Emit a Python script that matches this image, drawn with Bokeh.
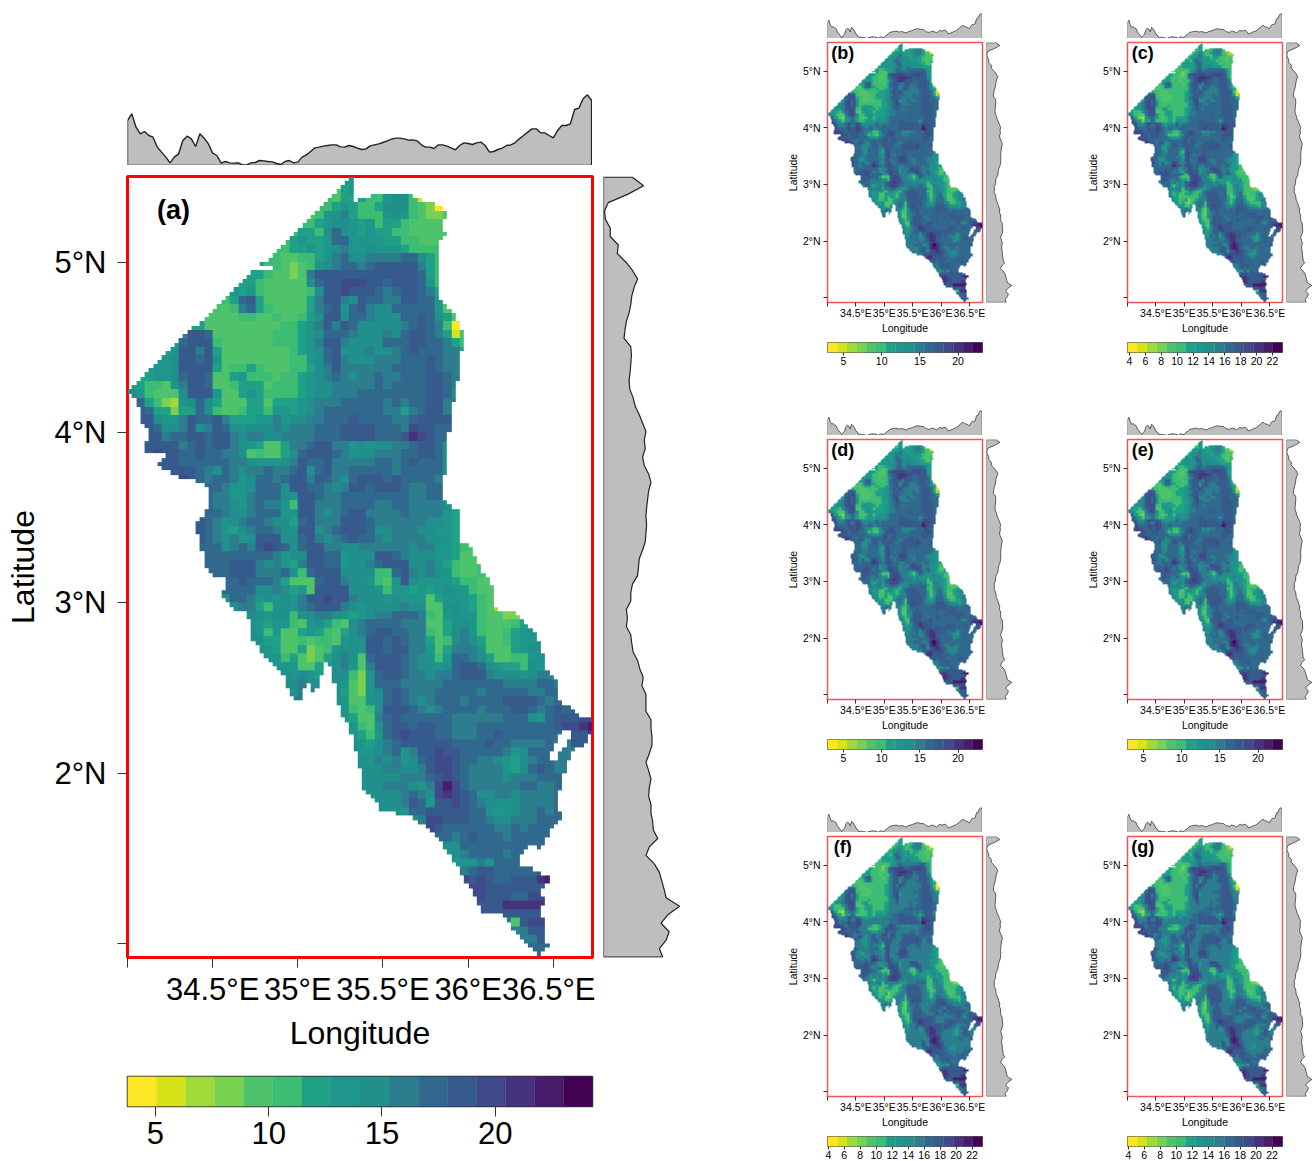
import numpy as np
from bokeh.embed import file_html
from bokeh.resources import INLINE
from bokeh.plotting import figure
from bokeh.layouts import row, column
from bokeh.models import (Spacer, LinearAxis, FixedTicker, LinearColorMapper, Label)

BANDS = ["#FDE725","#D8E219","#A0DA39","#7AD151","#4EC36B","#3DBC74","#1FA187","#1F968B",
         "#21908C","#2C7E8E","#31688E","#375A8C","#3E4A89","#46337E","#471C6A","#440154"]

LON_LIM = (34.0, 36.73)
LAT_LIM = (0.918, 5.504)

OUT_LON = [34.01,34.35,34.43,34.55,34.70,34.86,35.02,35.21,35.27,35.31,35.33,35.32,35.47,35.59,35.72,35.88,35.84,35.88,35.82,35.82,35.91,35.97,35.96,35.94,35.91,35.88,35.88,35.85,35.85,35.94,35.96,36.01,36.15,36.14,36.27,36.38,36.44,36.44,36.53,36.54,36.60,36.62,36.72,36.72,36.68,36.615,36.575,36.555,36.53,36.54,36.47,36.43,36.38,36.31,36.31,36.47,36.47,36.41,36.47,36.41,36.44,36.44,36.47,36.41,36.31,36.19,36.09,35.97,35.84,35.76,35.67,35.49,35.39,35.33,35.29,35.25,35.23,35.21,35.18,35.15,35.12,35.09,35.05,35.02,34.96,34.91,34.78,34.72,34.71,34.60,34.55,34.58,34.47,34.42,34.40,34.46,34.47,34.38,34.31,34.25,34.18,34.18,34.22,34.09,34.135,34.09,34.08]
OUT_LAT = [4.235,4.60,4.63,4.76,4.92,5.05,5.20,5.40,5.47,5.50,5.44,5.35,5.40,5.41,5.37,5.30,5.20,5.17,5.09,4.78,4.70,4.58,4.44,4.32,4.17,3.95,3.76,3.74,3.60,3.54,3.35,3.33,3.07,2.97,2.94,2.84,2.70,2.62,2.54,2.40,2.40,2.35,2.31,2.23,2.17,2.14,2.06,1.97,1.86,1.74,1.65,1.55,1.58,1.53,1.46,1.40,1.35,1.31,1.25,1.21,1.135,1.035,0.98,0.92,1.035,1.165,1.18,1.39,1.59,1.68,1.74,1.78,1.90,2.15,2.30,2.34,2.43,2.54,2.64,2.64,2.50,2.47,2.56,2.415,2.44,2.585,2.72,2.80,2.94,2.97,3.04,3.13,3.18,3.35,3.48,3.50,3.67,3.73,3.72,3.77,3.79,3.82,3.87,3.88,4.01,4.03,4.13]
LAKE_LON = [36.57,36.60,36.58,36.525,36.51,36.48,36.48,36.52,36.55]
LAKE_LAT = [2.26,2.25,2.18,2.12,2.06,2.07,2.12,2.19,2.255]
GAP_LON = [34.76,34.85,34.85,34.76]
GAP_LAT = [4.97,4.97,4.94,4.94]

# Re-reading of the teal classes against the colour key
READ_CAL = {13:13.5,14:15,15:16,16:16.8,17:17.5}

# Values on a 0.05 degree raster, north to south; each row starts at GRID_START[k]
GRID_START = [25,24,23,22,21,20,19,18,17,16,15,14,13,12,11,10,9,7,6,5,4,3,2,1,0,0,0,1,1,1,2,
              2,2,3,4,5,8,9,9,9,8,8,8,9,9,9,10,11,11,11,12,14,14,14,15,16,17,17,18,19,19,
              20,24,25,26,26,26,26,27,27,28,28,29,30,31,33,35,36,37,37,38,39,39,40,41,42,42,44,45,46,47,48]
GRID_ROWS = [
 [13,13],
 [9,12,13],
 [11,10,12,12,12,11,11,13,14,14,11,6,7,5],
 [11,11,12,13,12,11,11,12,14,14,14,11,9,8,5,6],
 [10,11,13,13,15,12,11,11,11,13,14,13,11,10,8,8,9],
 [11,11,12,13,14,14,13,12,13,11,12,12,11,10,9,9,9,10],
 [11,12,12,11,14,16,14,13,12,13,12,12,11,11,10,9,9,10,10],
 [11,12,13,12,12,13,16,16,13,13,13,13,12,12,11,11,10,9,10,10],
 [11,11,12,12,13,12,13,14,15,13,13,14,13,13,13,12,11,11,11,11],
 [11,11,10,10,11,11,12,13,15,16,14,14,15,15,15,15,16,16,14,12,11],
 [12,11,11,10,8,9,11,13,14,15,17,16,15,16,18,18,18,18,18,15,12,11],
 [12,12,11,10,9,8,10,15,18,19,19,19,19,18,18,18,19,19,19,18,17,12,11],
 [12,12,11,10,10,9,9,10,14,16,18,19,20,20,20,19,19,16,18,18,18,17,13,11],
 [13,12,13,11,10,10,9,10,10,11,14,18,19,20,19,19,18,17,15,16,18,18,17,15,12],
 [11,12,16,18,12,10,10,10,9,10,12,15,18,18,15,14,19,17,16,15,15,18,18,17,16,13],
 [10,9,11,15,16,12,11,10,10,10,10,12,15,17,18,13,16,18,15,14,14,16,17,17,17,16,13,9,10],
 [10,9,9,10,11,11,10,10,11,10,10,11,12,14,18,18,14,17,17,15,14,14,14,16,17,18,16,14,12,10],
 [12,12,10,10,9,9,9,10,10,10,10,11,11,12,13,15,18,15,19,16,14,14,14,14,14,15,17,18,17,15,11,5,8],
 [15,18,18,17,10,9,9,9,9,10,10,11,11,11,12,13,14,17,17,16,15,14,14,14,15,14,16,18,18,17,15,12,6,9],
 [13,16,18,19,18,11,10,9,9,9,9,10,11,11,11,12,13,15,18,18,15,14,14,14,14,16,16,16,18,18,17,16,15,12,11],
 [12,13,18,19,15,19,12,10,9,9,9,10,10,10,10,11,12,13,14,17,19,13,14,14,15,14,14,15,16,18,17,17,16,15,15,12],
 [13,13,14,18,19,16,19,13,10,10,10,10,10,10,10,10,11,11,13,14,16,19,15,14,14,14,15,15,15,16,17,17,18,17,15,15],
 [13,13,13,14,18,19,18,18,12,10,11,11,12,11,10,10,10,11,11,12,14,15,18,15,15,15,15,15,15,16,16,17,17,18,17,15,15],
 [12,12,13,13,14,17,19,19,17,10,10,12,13,11,11,11,10,11,11,12,13,14,15,17,15,14,15,15,16,15,15,16,17,17,18,18,16,15],
 [12,12,11,11,10,13,15,18,19,17,9,9,11,12,12,12,10,11,11,11,12,13,14,14,15,15,15,15,15,16,15,16,16,17,17,18,18,16,15],
 [14,13,11,10,9,9,14,18,19,18,13,10,10,12,13,12,11,11,11,11,12,13,14,14,15,15,15,16,16,17,16,16,16,17,17,18,18,16,14],
 [17,17,12,11,8,7,13,14,16,14,12,10,9,10,12,12,10,12,12,12,13,14,15,15,15,16,16,16,16,16,15,16,15,16,17,18,18,15],
 [18,16,12,12,8,12,12,16,14,11,10,10,11,12,12,11,13,13,12,13,14,15,16,16,17,17,16,16,16,15,15,12,15,17,18,18,15],
 [19,18,14,13,13,15,19,17,16,18,15,12,12,12,13,13,15,13,14,14,15,15,16,16,17,18,17,17,17,17,15,15,17,19,18,18],
 [19,19,16,14,14,15,18,14,15,19,17,14,13,14,14,14,15,14,15,15,15,16,16,16,18,18,18,18,17,17,17,15,20,19,19,17],
 [19,18,15,16,16,19,18,17,19,19,15,14,15,15,14,14,15,15,15,15,16,16,16,18,18,19,18,17,17,17,18,21,20,18,17],
 [19,19,19,18,15,17,18,16,19,18,15,14,13,12,10,10,12,15,15,17,19,18,15,15,13,14,13,14,14,15,15,16,19,18,17,14],
 [19,20,19,19,17,16,18,17,17,15,15,14,10,11,10,9,12,14,17,18,19,18,16,15,14,14,14,15,15,15,16,17,18,19,17,14],
 [18,19,18,17,16,17,16,17,16,15,15,14,13,13,13,14,15,18,16,16,18,15,15,15,15,15,16,16,15,16,18,17,17,16,14],
 [18,19,19,18,16,15,14,16,15,14,15,15,16,15,15,17,19,14,17,18,15,15,16,16,16,17,16,15,16,17,17,16,16,14],
 [19,20,19,17,15,16,17,15,13,14,16,17,15,16,18,18,15,18,17,15,14,16,18,18,18,17,18,16,16,16,16,15],
 [18,17,16,15,13,13,14,16,17,17,14,18,18,17,17,15,14,15,18,18,17,18,18,19,17,15,15,16,17],
 [16,15,15,13,13,15,16,16,16,14,13,18,18,16,15,15,16,17,17,17,17,17,17,16,15,15,16,16,14],
 [16,15,15,14,13,15,16,15,15,13,11,18,19,15,15,15,16,17,17,16,15,15,16,16,15,15,15,15,14,13],
 [17,16,15,14,14,15,16,16,16,13,13,18,19,15,14,15,16,18,18,15,15,15,15,16,15,15,15,15,13,12,12],
 [18,17,15,13,14,15,16,16,15,14,14,12,16,19,15,15,15,19,19,19,16,15,15,15,15,15,15,14,14,13,12,12],
 [18,16,15,13,12,14,15,16,16,15,14,13,18,19,14,15,16,19,19,19,16,14,14,15,15,15,14,14,13,13,12,11],
 [19,17,15,14,15,13,14,18,19,18,14,14,16,19,15,14,15,17,18,17,16,15,14,15,15,15,15,14,14,13,12,11,10],
 [16,16,14,15,16,15,18,20,19,16,14,17,19,18,15,15,14,14,15,15,15,15,15,15,14,15,15,13,13,12,11,10],
 [16,16,16,16,17,16,17,16,15,13,14,14,19,18,16,16,13,14,14,14,19,19,17,15,14,14,14,13,13,12,10,9,11],
 [16,16,17,18,19,18,15,14,15,13,12,15,18,19,17,17,13,14,14,15,16,18,19,18,14,14,15,13,12,11,9,9,11],
 [17,17,18,19,18,15,15,15,17,14,11,16,19,18,18,14,14,14,14,11,11,16,18,15,14,15,14,13,11,10,10,11,12],
 [16,17,18,17,16,16,15,12,9,10,9,17,19,19,15,14,14,13,11,9,13,18,14,13,13,13,13,12,11,11,10,10],
 [16,17,17,16,14,14,15,14,12,13,10,18,19,19,18,14,14,14,13,11,13,13,12,13,12,13,14,13,13,11,10,9],
 [14,17,16,15,13,14,13,14,13,15,18,19,20,19,18,15,14,14,14,13,14,13,13,13,10,12,13,13,13,12,11,10,7],
 [14,15,15,12,11,13,14,13,15,17,19,19,19,15,14,13,14,14,14,14,15,14,14,10,10,14,14,13,12,11,10,7],
 [14,14,13,14,14,11,14,14,15,15,14,13,12,13,14,15,15,16,16,16,15,11,10,13,14,13,13,11,10,9,8],
 [14,13,12,13,13,11,10,13,14,12,11,10,14,15,16,17,17,16,15,15,15,10,10,12,14,14,13,11,10,10,10,11,12],
 [14,13,11,13,10,9,12,13,12,11,10,12,14,15,17,18,18,17,16,15,15,11,9,12,14,15,13,11,9,10,11,12,13,14],
 [14,12,12,9,10,11,10,11,11,10,13,14,14,18,18,17,18,16,15,15,12,9,11,14,15,14,12,9,9,11,12,13,13,14],
 [13,12,10,10,12,8,9,11,13,14,14,13,18,18,17,18,18,15,15,13,10,12,15,15,15,13,10,9,10,12,13,14,14],
 [13,11,12,9,8,9,12,14,15,14,9,16,18,18,18,17,15,14,13,11,13,16,16,15,14,12,10,10,11,11,13,14,13],
 [13,13,13,10,9,12,13,14,15,13,9,15,18,19,18,17,15,14,14,13,14,17,18,18,16,14,13,12,12,11,14,13,14],
 [14,13,14,13,12,13,14,14,11,8,13,17,18,18,16,15,15,14,15,15,17,18,18,18,15,14,14,14,13,14,15,15,14],
 [14,15,14,14,14,14,13,10,8,13,16,16,17,15,15,15,15,15,16,17,17,17,17,16,16,15,15,15,15,16,16,15,15],
 [14,15,15,14,14,14,12,9,8,13,14,16,18,16,15,15,15,16,16,17,16,16,15,17,17,17,16,16,15,15,16,17,15],
 [15,15,14,14,14,13,9,9,13,14,17,18,17,15,14,15,16,16,16,15,16,17,16,17,18,18,18,18,16,15,17,16],
 [13,13,11,9,11,14,18,18,18,16,15,14,15,16,17,16,16,15,16,16,16,18,18,16,15,16,18,16,17,17],
 [13,12,10,9,15,17,18,17,16,16,17,17,16,15,15,15,15,15,15,16,17,17,14,13,16,18,19,19,20,20],
 [13,11,9,14,17,18,19,17,18,18,17,16,15,15,15,16,16,16,16,16,16,16,16,16,18,20,20,21,22,22],
 [13,12,11,13,16,18,20,19,18,18,17,16,15,15,15,16,17,18,17,16,16,16,17,16,16,16,19,19,21],
 [14,13,12,14,15,17,18,19,18,18,18,18,17,17,16,17,18,17,16,15,15,15,15,16,15,15,18],
 [14,13,13,14,15,16,13,15,18,19,20,19,18,17,16,17,16,16,15,13,14,16,16,16,15,15],
 [14,13,15,14,15,13,14,17,19,20,20,18,17,16,15,15,14,13,12,14,15,17,16,15,15],
 [14,14,14,15,15,14,14,15,18,20,20,18,16,15,15,15,15,13,12,14,16,18,16,15],
 [14,14,14,14,15,15,15,16,19,20,19,17,15,15,15,15,14,15,15,15,16,16,16],
 [14,14,15,15,15,14,13,15,20,22,20,17,15,15,15,15,15,15,16,16,15,15,17],
 [14,14,14,15,17,15,14,20,21,20,18,16,14,14,15,15,14,15,15,15,15,16],
 [14,14,15,18,16,13,18,19,20,19,17,15,14,14,13,14,15,15,15,15,16],
 [14,13,16,17,18,19,19,19,19,17,16,14,13,13,14,15,15,16,15,16],
 [14,15,20,20,18,18,18,17,16,15,14,14,15,15,15,16,16,17],
 [20,19,17,17,17,17,17,16,15,15,16,15,16,16,16],
 [16,17,15,17,18,16,16,16,15,16,17,17,16,16],
 [14,14,16,17,17,17,16,16,16,16,16,16],
 [14,14,15,17,16,17,16,15,16,16,16],
 [13,13,13,15,13,17,16,16,16],
 [15,17,18,18,17,17,17,17,17,18,19],
 [20,19,20,18,17,17,18,18,19,21,22,22],
 [20,20,19,18,18,18,18,18,18,20],
 [20,19,18,18,17,17,20,20,21],
 [18,18,21,21,21,21,21,20],
 [18,18,18,18,19,19,19,17],
 [15,10,18,20,20,18],
 [15,15,18,18,17],
 [15,15,18,18],
 [17,17,16],
 [17],
]

# Mean of the raster along each longitude (0.025 degree steps) and latitude
TOP_PROFILE = [135,155,115,95,102,90,85,55,40,25,8,25,35,75,88,80,57,95,82,65,37,30,7,12,8,7,8,2,2,8,9,15,14,12,11,6,3,12,15,8,10,25,32,42,53,55,58,60,62,62,56,55,60,57,52,48,50,59,62,65,69,74,79,82,82,80,76,77,74,62,55,55,51,62,62,58,53,47,60,68,66,63,68,70,60,40,42,48,52,60,62,68,80,90,100,110,110,98,98,90,83,105,120,120,125,168,172,200,212,195]
RIGHT_PROFILE = [86,119,73,14,3,6,20,20,44,41,66,86,101,91,84,81,76,68,64,61,81,83,81,79,76,78,88,94,106,116,126,121,124,116,121,134,141,134,131,128,126,128,126,124,116,106,104,101,86,81,81,68,71,68,81,84,88,101,108,118,114,126,126,126,141,141,144,144,136,126,134,141,136,134,141,141,146,148,161,136,126,151,166,173,180,186,226,191,171,195,186,166,176]

LAT_TICKS = [1,2,3,4,5]
LAT_LABELS = ["","2°N","3°N","4°N","5°N"]
LON_TICKS = [34.0,34.5,35.0,35.5,36.0,36.5]
LON_LABELS = ["","34.5°E","35°E","35.5°E","36°E","36.5°E"]

PANEL_NAMES = ["(b)","(c)","(d)","(e)","(f)","(g)"]
CB_LOW  = [2.9,3.75,2.9,2.9,3.9,3.9]
CB_HIGH = [23.2,23.27,23.2,23.2,23.3,23.3]
T5 = [5,10,15,20]
T2 = [4,6,8,10,12,14,16,18,20,22]
CB_TICKS = [T5,T2,T5,T5,T2,T2]
A_CB = (3.77,24.29)
FONT = "Liberation Sans"

def inside(lon, lat, px, py):
    px=np.asarray(px); py=np.asarray(py); res=np.zeros(lon.shape,bool)
    qx=np.roll(px,-1); qy=np.roll(py,-1)
    for a,b,c,d in zip(px,py,qx,qy):
        if b==d: continue
        cond=((b>lat)!=(d>lat)) & (lon < a+(lat-b)*(c-a)/(d-b))
        res^=cond
    return res

def raster():
    step=0.025
    lons=np.arange(34.0+step/2,36.75,step)
    lats=np.arange(0.9+step/2,5.525,step)
    LO,LA=np.meshgrid(lons,lats)
    m=inside(LO,LA,OUT_LON,OUT_LAT)&~inside(LO,LA,LAKE_LON,LAKE_LAT)&~inside(LO,LA,GAP_LON,GAP_LAT)
    arr=np.full(LO.shape,np.nan)
    for i in range(LO.shape[0]):
        for k in range(LO.shape[1]):
            if not m[i,k]: continue
            j=int(np.clip(np.floor((5.5-LA[i,k])/0.05),0,len(GRID_ROWS)-1))
            c=int(np.floor((LO[i,k]-34.0)/0.05))-GRID_START[j]
            vals=GRID_ROWS[j]
            v=vals[int(np.clip(c,0,len(vals)-1))]
            arr[i,k]=READ_CAL.get(v,v)
    return arr,lons[0]-step/2,lats[0]-step/2,step*len(lons),step*len(lats)

ARR,X0,Y0,DW,DH=raster()

def base(w,h,xr,yr,l=0,r=0,t=0,b=0):
    p=figure(width=w,height=h,x_range=xr,y_range=yr,toolbar_location=None,output_backend="svg",
             min_border_left=l,min_border_right=r,min_border_top=t,min_border_bottom=b,
             x_axis_location=None,y_axis_location=None,tools="")
    p.grid.visible=False
    p.outline_line_color=None
    p.background_fill_color="white"
    return p

def top_fig(w,h,ymax,lw):
    p=base(w,h,LON_LIM,(0,ymax))
    x=[LON_LIM[0]+0.025*i for i in range(len(TOP_PROFILE))]
    x=[min(v,LON_LIM[1]) for v in x]
    xs=[x[0]]+x+[x[-1]]
    ys=[0]+TOP_PROFILE+[0]
    p.patch(xs,ys,fill_color="#BEBEBE",line_color="#222222",line_width=lw)
    return p

def right_fig(w,h,xmax,lw,t,b):
    p=base(w,h,(0,xmax),LAT_LIM,t=t,b=b)
    n=len(RIGHT_PROFILE)
    lat=[5.5-(5.5-0.92)*i/(n-1) for i in range(n)]
    xs=[0]+RIGHT_PROFILE+[0]
    ys=[lat[0]]+lat+[lat[-1]]
    p.patch(xs,ys,fill_color="#BEBEBE",line_color="#222222",line_width=lw)
    return p

def main_fig(w,h,l,r,t,b,name,low,high,big):
    p=base(w,h,LON_LIM,LAT_LIM,l=l,r=r,t=t,b=b)
    mapper=LinearColorMapper(palette=BANDS,low=low,high=high,nan_color="rgba(0,0,0,0)")
    p.image(image=[ARR],x=X0,y=Y0,dw=DW,dh=DH,color_mapper=mapper)
    p.outline_line_color="#FF0000" if big else "#F25555"
    p.outline_line_width=3 if big else 1.5
    tick=10 if big else 4
    fs="31px" if big else "10.5px"
    ls="32px" if big else "10.5px"
    xa=LinearAxis(ticker=FixedTicker(ticks=LON_TICKS),axis_label="Longitude",
                  major_label_overrides=dict(zip(LON_TICKS,LON_LABELS)),
                  major_tick_out=tick,major_tick_in=0,minor_tick_line_color=None,axis_line_color=None,
                  major_label_text_font=FONT,major_label_text_font_size=fs,major_label_text_color="#000000",
                  axis_label_text_font=FONT,axis_label_text_font_size=ls,axis_label_text_font_style="normal",
                  axis_label_text_color="#000000",major_label_standoff=4 if big else 0,axis_label_standoff=5 if big else 0,
                  major_tick_line_color="#333333",major_tick_line_width=1)
    ya=LinearAxis(ticker=FixedTicker(ticks=LAT_TICKS),axis_label="Latitude",
                  major_label_overrides=dict(zip(LAT_TICKS,LAT_LABELS)),
                  major_tick_out=tick,major_tick_in=0,minor_tick_line_color=None,axis_line_color=None,
                  major_label_text_font=FONT,major_label_text_font_size=fs,major_label_text_color="#000000",
                  major_label_orientation="horizontal",
                  axis_label_text_font=FONT,axis_label_text_font_size=ls,axis_label_text_font_style="normal",
                  axis_label_text_color="#000000",major_label_standoff=11 if big else 3,axis_label_standoff=10 if big else 1,
                  major_tick_line_color="#333333",major_tick_line_width=1)
    p.add_layout(xa,"below"); p.add_layout(ya,"left")
    p.add_layout(Label(x=34.27,y=5.31,text=name,text_font=FONT,text_font_style="bold",
                       text_font_size="27px" if big else "18px",text_align="center",text_baseline="middle",text_color="#000000"))
    return p

def cb_fig(w,h,low,high,ticks,big):
    p=base(w,h,(low,high),(0,1),l=2,r=w-2-(465 if big else 155),t=2,b=h-2-(30 if big else 10))
    edges=[low+(high-low)*i/len(BANDS) for i in range(len(BANDS)+1)]
    p.quad(left=edges[:-1],right=edges[1:],bottom=0,top=1,fill_color=BANDS,line_color=BANDS,line_width=0.3)
    p.outline_line_color="#333333"; p.outline_line_width=1.5 if big else 0.8
    a=LinearAxis(ticker=FixedTicker(ticks=ticks),major_tick_out=10 if big else 3,major_tick_in=0,
                 minor_tick_line_color=None,axis_line_color=None,major_label_text_font=FONT,
                 major_label_text_font_size="31px" if big else "10.5px",major_label_text_color="#000000",
                 major_label_standoff=5 if big else 1,major_tick_line_color="#333333")
    p.add_layout(a,"below")
    return p

def sp(w=0,h=0):
    return Spacer(width=w,height=h)

left_block=column(
    sp(h=85),
    row(sp(w=127),top_fig(465,80,240,1.4)),
    sp(h=9),
    row(main_fig(595,881,127,3,2,98,"(a)",A_CB[0],A_CB[1],True),sp(w=8),right_fig(82,881,243.5,1.2,2,98)),
    sp(h=19),
    row(sp(w=125),cb_fig(474,82,A_CB[0],A_CB[1],[5,10,15,20],True)),
)

def small_block(i):
    return column(
        row(sp(w=49),top_fig(155,28,238,0.7)),
        sp(h=2),
        row(main_fig(207,296,49,3,2,34,PANEL_NAMES[i],CB_LOW[i],CB_HIGH[i],False),sp(w=1),right_fig(26,296,231.7,0.7,2,34)),
        sp(h=4),
        row(sp(w=47),cb_fig(162,30,CB_LOW[i],CB_HIGH[i],CB_TICKS[i],False)),
        sp(h=37),
    )

col1=column(sp(h=10),small_block(0),small_block(2),small_block(4))
col2=column(sp(h=10),small_block(1),small_block(3),small_block(5))
page=row(left_block,sp(w=93),col1,sp(w=66),col2)
open("out.html","w").write(file_html(page,INLINE))
